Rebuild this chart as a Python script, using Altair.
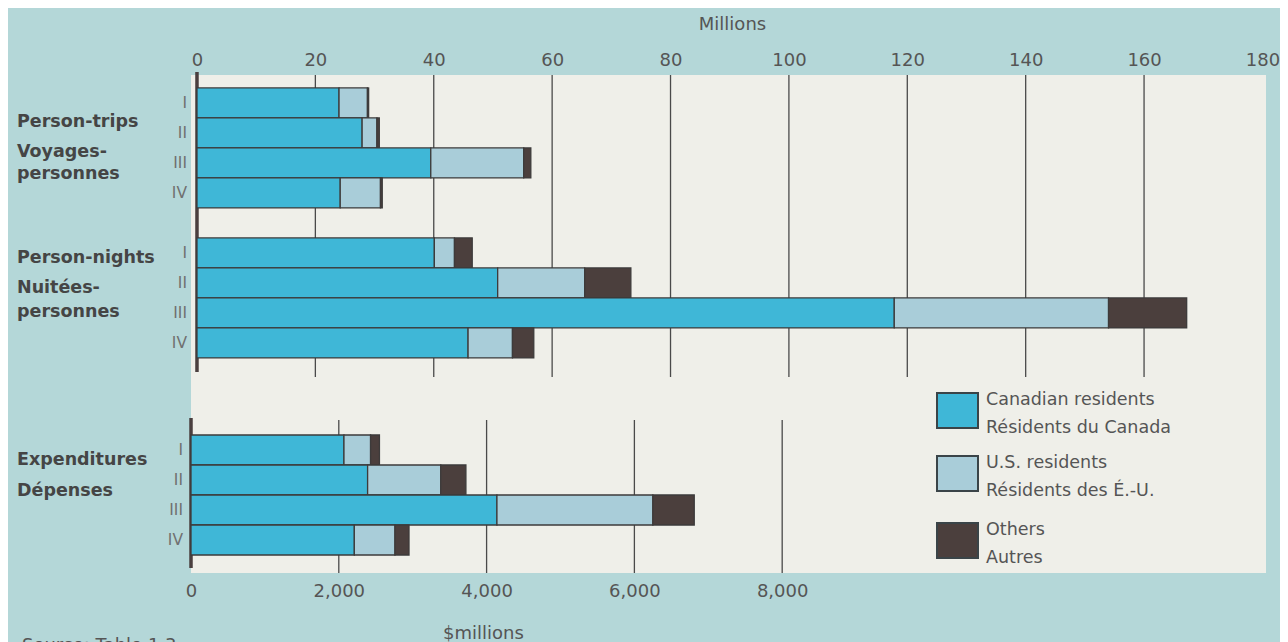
import altair as alt
import pandas as pd

# ---------------- data ----------------
quarters = ["I", "II", "III", "IV"]
series = ["Canadian residents", "U.S. residents", "Others"]

trips_can = [24.0, 27.9, 39.5, 24.2]
trips_us = [4.8, 2.5, 15.7, 6.8]
trips_oth = [0.2, 0.4, 1.2, 0.3]

nights_can = [40.1, 50.8, 117.8, 45.8]
nights_us = [3.4, 14.7, 36.2, 7.5]
nights_oth = [3.0, 7.8, 13.2, 3.6]

exp_can = [2070, 2390, 4140, 2210]
exp_us = [360, 990, 2110, 550]
exp_oth = [120, 340, 560, 190]

top_ticks = [0, 20, 40, 60, 80, 100, 120, 140, 160, 180]
top_grid = [20, 40, 60, 80, 100, 120, 140, 160]
bottom_ticks = [0, 2000, 4000, 6000, 8000]
bottom_grid = [2000, 4000, 6000, 8000]

legend_lines = [("Canadian residents", "Résidents du Canada"),
                ("U.S. residents", "Résidents des É.-U."),
                ("Others", "Autres")]

# ---------------- style ----------------
BG = "#b4d7d8"
PANEL = "#efefe9"
COLORS = ["#3fb7d7", "#a9cdd9", "#4b3f3d"]
OUTLINE = "#3d3b3b"
TXT = "#555555"
FONT = "DejaVu Sans"

W, H = 1075, 498


def rows(group, can, us, oth):
    recs = []
    for q, a, b, c in zip(quarters, can, us, oth):
        start = 0.0
        for s, v in zip(series, [a, b, c]):
            recs.append({"key": f"{group} {q}", "q": q, "series": s,
                         "start": start, "end": start + v})
            start += v
    return recs


# band domains: real rows plus empty spacer rows (layout only)
top_keys = ([f"PT {q}" for q in quarters] + ["gap"] + [f"PN {q}" for q in quarters]
            + [f"tpad{i}" for i in range(7)])
bot_keys = [f"bpad{i}" for i in range(12)] + [f"EX {q}" for q in quarters]

top_df = pd.DataFrame(rows("PT", trips_can, trips_us, trips_oth) +
                      rows("PN", nights_can, nights_us, nights_oth))
bot_df = pd.DataFrame(rows("EX", exp_can, exp_us, exp_oth))

top_x_scale = alt.Scale(domain=[-1.01, 180.6], nice=False, zero=False)
bot_x_scale = alt.Scale(domain=[0, 14547], nice=False, zero=False)
top_y_scale = alt.Scale(domain=top_keys, paddingInner=0, paddingOuter=0.3, align=0.72)
bot_y_scale = alt.Scale(domain=bot_keys, paddingInner=0, paddingOuter=0.3, align=0)
color_scale = alt.Scale(domain=series, range=COLORS)

top_axis = alt.Axis(orient="top", values=top_ticks, title="Millions",
                    labelFontSize=18, labelColor=TXT, labelFont=FONT,
                    labelFlush=False, domain=False, ticks=False, grid=False,
                    labelPadding=6, titleFontSize=18, titleFontWeight="normal",
                    titleColor=TXT, titleFont=FONT, titlePadding=18, titleX=541)
bot_axis = alt.Axis(orient="bottom", values=bottom_ticks, format=",d", title="$millions",
                    labelFontSize=18, labelColor=TXT, labelFont=FONT,
                    labelFlush=False, domain=False, ticks=False, grid=False,
                    labelPadding=9, titleFontSize=18, titleFontWeight="normal",
                    titleColor=TXT, titleFont=FONT, titlePadding=24, titleX=292)


def bars(df, xscale, yscale, axis):
    return alt.Chart(df).mark_bar(stroke=OUTLINE, strokeWidth=1.3).encode(
        x=alt.X("start:Q", scale=xscale, axis=axis),
        x2="end:Q",
        y=alt.Y("key:N", scale=yscale, axis=None),
        color=alt.Color("series:N", scale=color_scale, legend=None),
    )


def qlabels(df, yscale, xoff):
    d = df.drop_duplicates("key")
    return alt.Chart(d).mark_text(align="right", baseline="middle", fontSize=15.5,
                                  font=FONT, color="#707070").encode(
        x=alt.value(xoff),
        y=alt.Y("key:N", scale=yscale, axis=None),
        text="q:N",
    )


def gridrules(vals, xscale, axis, y0, y1, width=1.3, color="#4a4a4a"):
    return alt.Chart(pd.DataFrame({"v": vals})).mark_rule(
        color=color, strokeWidth=width).encode(
        x=alt.X("v:Q", scale=xscale, axis=axis),
        y=alt.value(y0), y2=alt.value(y1),
    )


def label(text, x, y, size=17.5, weight="bold", color="#454545", align="left", baseline="middle"):
    return alt.Chart(pd.DataFrame({"t": [text]})).mark_text(
        align=align, baseline=baseline, fontSize=size, fontWeight=weight,
        font=FONT, color=color).encode(
        x=alt.value(x), y=alt.value(y), text="t:N")


top_layer = alt.layer(
    gridrules(top_grid, top_x_scale, top_axis, 0, 302),
    gridrules([0], top_x_scale, top_axis, -3, 297, width=3.5, color="#4a3f3f"),
    bars(top_df, top_x_scale, top_y_scale, top_axis),
    qlabels(top_df, top_y_scale, -4),
)

bot_layer = alt.layer(
    gridrules(bottom_grid, bot_x_scale, bot_axis, 345, 498),
    gridrules([0], bot_x_scale, bot_axis, 343, 493, width=3.5, color="#4a3f3f"),
    bars(bot_df, bot_x_scale, bot_y_scale, bot_axis),
    qlabels(bot_df, bot_y_scale, -8),
)

# group labels (left side)
LX = -174
group_labels = [
    label("Person-trips", LX, 47), label("Voyages-", LX, 77), label("personnes", LX, 99),
    label("Person-nights", LX, 183), label("Nuitées-", LX, 213), label("personnes", LX, 237),
    label("Expenditures", LX, 385), label("Dépenses", LX, 416),
    label("Source: Table 1.3", -169, 562, size=18, weight="normal", color=TXT, baseline="top"),
]

# manual legend
legend_parts = []
sw_tops = [318, 381, 448]
for (l1, l2), col, top in zip(legend_lines, COLORS, sw_tops):
    legend_parts.append(
        alt.Chart(pd.DataFrame({"s": [l1]})).mark_rect(
            fill=col, stroke="#3a4448", strokeWidth=2).encode(
            x=alt.value(746), x2=alt.value(787), y=alt.value(top), y2=alt.value(top + 35)))
    legend_parts.append(label(l1, 795, top + 7, size=17.5, weight="normal", color=TXT))
    legend_parts.append(label(l2, 795, top + 35, size=17.5, weight="normal", color=TXT))

chart = alt.layer(top_layer, bot_layer, *group_labels, *legend_parts).resolve_scale(
    x="independent", y="independent"
).properties(
    width=W, height=H,
    autosize=alt.AutoSizeParams(type="none"),
    padding={"left": 183, "top": 67, "right": 14, "bottom": 69},
    background=BG,
).configure_view(fill=PANEL, stroke=None)

chart.save("out.html", embed_options={"renderer": "svg", "actions": False})
